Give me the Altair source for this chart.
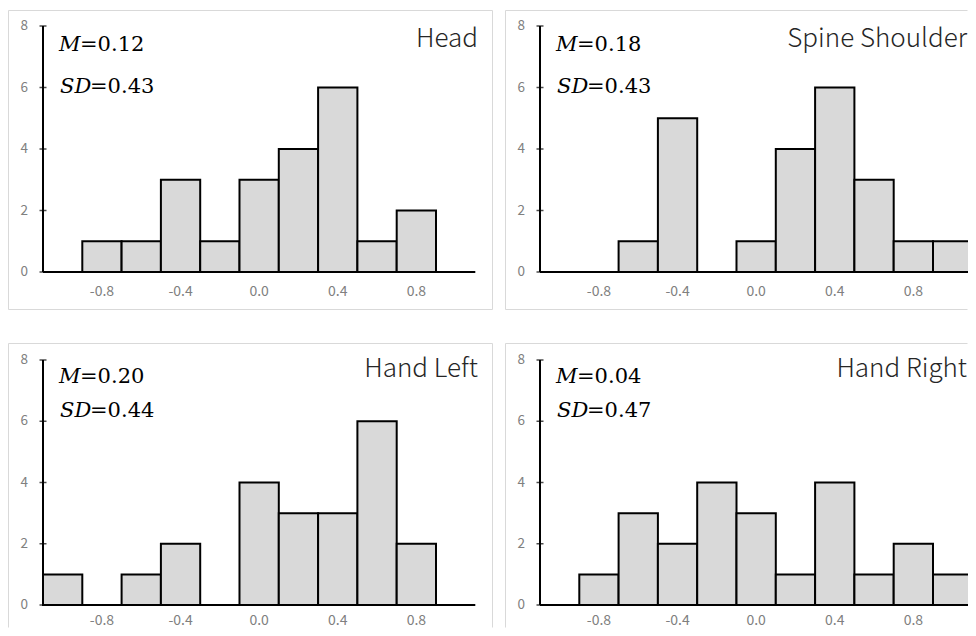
import altair as alt
import pandas as pd

# ---- data ----
bin_centers = [-1.0, -0.8, -0.6, -0.4, -0.2, 0.0, 0.2, 0.4, 0.6, 0.8, 1.0]
head = [0, 1, 1, 3, 1, 3, 4, 6, 1, 2, 0]
spine_shoulder = [0, 0, 1, 5, 0, 1, 4, 6, 3, 1, 1]
hand_left = [1, 0, 1, 2, 0, 4, 3, 3, 6, 2, 0]
hand_right = [0, 1, 3, 2, 4, 3, 1, 4, 1, 2, 1]

panel_names = ["Head", "Spine Shoulder", "Hand Left", "Hand Right"]
means = ["0.12", "0.18", "0.20", "0.04"]
sds = ["0.43", "0.43", "0.44", "0.47"]

x_ticks = [-0.8, -0.4, 0.0, 0.4, 0.8]
x_tick_labels = ["-0.8", "-0.4", "0.0", "0.4", "0.8"]
y_ticks = [0, 2, 4, 6, 8]
y_tick_labels = ["0", "2", "4", "6", "8"]

BIN_W = 0.2
X_MIN, X_MAX = -1.1, 1.1
Y_MAX = 8

# ---- layout (pixels) ----
PX_PER_UNIT = 196.5
AXIS_LEFT = 35  # y-axis position inside a panel


def x_domain(width):
    lo = X_MIN - AXIS_LEFT / PX_PER_UNIT
    return [lo, lo + width / PX_PER_UNIT]


def y_domain(height, top_px, zero_px):
    per = (zero_px - top_px) / Y_MAX
    return [-(height - zero_px) / per, Y_MAX + top_px / per]


LABEL_COLOR = "#808080"
BORDER = "#d9d9d9"
SANS = "Noto Sans CJK JP"
SERIF = "DejaVu Serif"


def one(**kw):
    return pd.DataFrame({k: [v] for k, v in kw.items()}) if kw else pd.DataFrame({"k": [0]})


def panel(name, counts, m, sd, W, H, top_px, zero_px, m_y, sd_y, title_x, title_y,
          xlab_dy, right_border, bottom_border):
    xs = alt.Scale(domain=x_domain(W), nice=False, zero=False)
    ys = alt.Scale(domain=y_domain(H, top_px, zero_px), nice=False, zero=False)

    bars = pd.DataFrame({
        "start": [c - BIN_W / 2 for c in bin_centers],
        "end": [c + BIN_W / 2 for c in bin_centers],
        "count": counts,
        "base": [0] * len(counts),
    })
    bars = bars[bars["count"] > 0]

    layers = []
    # panel frame (kept inside the panel so it does not grow the chart)
    layers.append(alt.Chart(one()).mark_rule(color=BORDER, strokeWidth=1).encode(
        x=alt.value(0.5), x2=alt.value(W - 0.5), y=alt.value(0.5)))
    layers.append(alt.Chart(one()).mark_rule(color=BORDER, strokeWidth=1).encode(
        x=alt.value(0.5), y=alt.value(0.5), y2=alt.value(H - 0.5)))
    if right_border:
        layers.append(alt.Chart(one()).mark_rule(color=BORDER, strokeWidth=1).encode(
            x=alt.value(W - 0.5), y=alt.value(0.5), y2=alt.value(H - 0.5)))
    if bottom_border:
        layers.append(alt.Chart(one()).mark_rule(color=BORDER, strokeWidth=1).encode(
            x=alt.value(0.5), x2=alt.value(W - 0.5), y=alt.value(H - 0.5)))

    layers.append(alt.Chart(bars).mark_rect(
        fill="#d9d9d9", stroke="black", strokeWidth=2, clip=True
    ).encode(
        x=alt.X("start:Q", scale=xs, axis=None),
        x2="end:Q",
        y=alt.Y("count:Q", scale=ys, axis=None),
        y2="base:Q",
    ))

    layers.append(alt.Chart(one(a=X_MIN, b=X_MAX, y=0)).mark_rule(
        color="black", strokeWidth=2, clip=True
    ).encode(
        x=alt.X("a:Q", scale=xs, axis=None), x2="b:Q",
        y=alt.Y("y:Q", scale=ys, axis=None),
    ))
    layers.append(alt.Chart(one(x=X_MIN, a=0, b=Y_MAX)).mark_rule(
        color="black", strokeWidth=2
    ).encode(
        x=alt.X("x:Q", scale=xs, axis=None),
        y=alt.Y("a:Q", scale=ys, axis=None), y2="b:Q",
    ))
    yt = pd.DataFrame({"x": [X_MIN] * len(y_ticks), "y": y_ticks, "t": y_tick_labels})
    layers.append(alt.Chart(yt).mark_tick(
        orient="horizontal", size=7, thickness=1.5, color="black"
    ).encode(
        x=alt.X("x:Q", scale=xs, axis=None),
        y=alt.Y("y:Q", scale=ys, axis=None),
    ))
    layers.append(alt.Chart(yt).mark_text(
        align="right", baseline="middle", dx=-15, fontSize=13.5, font=SANS, color=LABEL_COLOR
    ).encode(
        x=alt.X("x:Q", scale=xs, axis=None),
        y=alt.Y("y:Q", scale=ys, axis=None),
        text="t:N",
    ))
    xt = pd.DataFrame({"x": x_ticks, "y": [0] * len(x_ticks), "t": x_tick_labels})
    layers.append(alt.Chart(xt).mark_text(
        align="center", baseline="middle", dy=xlab_dy, fontSize=14, font=SANS,
        color=LABEL_COLOR
    ).encode(
        x=alt.X("x:Q", scale=xs, axis=None),
        y=alt.Y("y:Q", scale=ys, axis=None),
        text="t:N",
    ))

    layers.append(alt.Chart(one(t=name)).mark_text(
        align="right", baseline="alphabetic", fontSize=26, font=SANS, fontWeight=300,
        color="#262626",
    ).encode(x=alt.value(title_x), y=alt.value(title_y), text="t:N"))

    layers.append(alt.Chart(one(t="M")).mark_text(
        align="left", baseline="middle", fontSize=21, font=SERIF, fontStyle="italic", color="black"
    ).encode(x=alt.value(51), y=alt.value(m_y), text="t:N"))
    layers.append(alt.Chart(one(t="=" + m)).mark_text(
        align="left", baseline="middle", fontSize=21, font=SERIF, color="black"
    ).encode(x=alt.value(72), y=alt.value(m_y), text="t:N"))
    layers.append(alt.Chart(one(t="SD")).mark_text(
        align="left", baseline="middle", fontSize=21, font=SERIF, fontStyle="italic", color="black"
    ).encode(x=alt.value(52), y=alt.value(sd_y), text="t:N"))
    layers.append(alt.Chart(one(t="=" + sd)).mark_text(
        align="left", baseline="middle", fontSize=21, font=SERIF, color="black"
    ).encode(x=alt.value(82), y=alt.value(sd_y), text="t:N"))

    return alt.layer(*layers).properties(width=W, height=H)


# the window shows the left column in full; the right column and the bottom row are cut at its edge
W_LEFT, W_RIGHT = 485, 463
H_TOP, H_BOTTOM = 300, 285

p1 = panel(panel_names[0], head, means[0], sds[0], W_LEFT, H_TOP, 16, 262, 35, 77, 470, 37, 20, True, True)
p2 = panel(panel_names[1], spine_shoulder, means[1], sds[1], W_RIGHT, H_TOP, 16, 262, 35, 77, 462, 37, 20, False, True)
p3 = panel(panel_names[2], hand_left, means[2], sds[2], W_LEFT, H_BOTTOM, 17, 262, 34, 68, 470, 34, 16, True, False)
p4 = panel(panel_names[3], hand_right, means[3], sds[3], W_RIGHT, H_BOTTOM, 17, 262, 34, 68, 462, 34, 16, False, False)

chart = alt.vconcat(
    alt.hconcat(p1, p2, spacing=12),
    alt.hconcat(p3, p4, spacing=12),
    spacing=33,
).properties(
    padding={"left": 0, "top": 2, "right": 0, "bottom": 0},
    background="white",
).configure_view(stroke="transparent", strokeWidth=0)

chart.save("out.html", embed_options={"renderer": "svg", "actions": False})
